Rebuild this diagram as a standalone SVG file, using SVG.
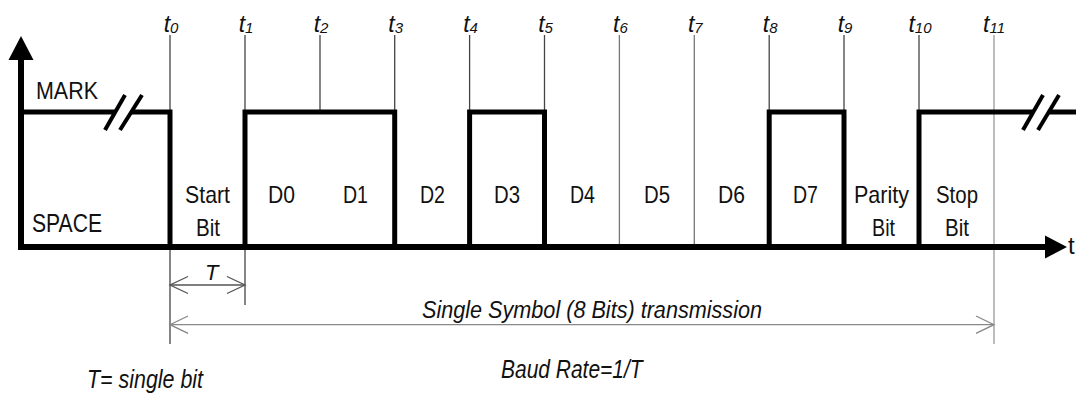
<svg xmlns="http://www.w3.org/2000/svg" width="1076" height="396" viewBox="0 0 1076 396">
<style>
.txt{font-family:"Liberation Sans",Arial,sans-serif;fill:#111}
.it{font-style:italic}
.cell{font-size:24px;text-anchor:middle}
.tl{font-size:23px;font-style:italic;text-anchor:middle}
.sub{font-size:15px}
.sig{fill:none;stroke:#000;stroke-width:5;stroke-linejoin:miter;stroke-linecap:butt}
.brk{stroke:#000;stroke-width:4}
.tick{stroke:#444;stroke-width:1.3}
.tickl{stroke:#777;stroke-width:1.3}
.tickg{stroke:#999;stroke-width:1.3}
.dim{fill:none;stroke:#555;stroke-width:1.3}
.diml{fill:none;stroke:#888;stroke-width:1.3}
</style>
<rect width="1076" height="396" fill="#fff"/>
<g id="ticks">
<line class="tick" x1="170" y1="35" x2="170" y2="344"/>
<line class="tick" x1="245" y1="35" x2="245" y2="305"/>
<line class="tick" x1="320" y1="35" x2="320" y2="112"/>
<line class="tick" x1="394.7" y1="35" x2="394.7" y2="112"/>
<line class="tick" x1="469.6" y1="35" x2="469.6" y2="112"/>
<line class="tick" x1="544.5" y1="35" x2="544.5" y2="112"/>
<line class="tickl" x1="619.4" y1="35" x2="619.4" y2="247"/>
<line class="tickl" x1="694.3" y1="35" x2="694.3" y2="247"/>
<line class="tick" x1="769.2" y1="35" x2="769.2" y2="112"/>
<line class="tick" x1="844" y1="35" x2="844" y2="112"/>
<line class="tick" x1="919" y1="35" x2="919" y2="112"/>
<line class="tickg" x1="994" y1="35" x2="994" y2="344"/>
</g>
<g id="axes">
<line x1="21" y1="58" x2="21" y2="250" stroke="#000" stroke-width="6"/>
<polygon points="21,36 8.5,60 33.5,60" fill="#000"/>
<line x1="18" y1="247" x2="1047" y2="247" stroke="#000" stroke-width="6"/>
<polygon points="1067,247 1045,235.5 1045,258.5" fill="#000"/>
<text class="txt" x="1068" y="254" font-size="24">t</text>
</g>
<g id="signal">
<path class="sig" d="M21,112 H115 M131,112 H170 V247 M245,247 V112 H394.7 V247 M469.6,247 V112 H544.5 V247 M769.2,247 V112 H844 V247 M919,247 V112 H1033 M1049,112 H1076"/>
<line class="brk" x1="105" y1="130" x2="125" y2="95"/>
<line class="brk" x1="120" y1="130" x2="142" y2="95"/>
<line class="brk" x1="1023" y1="130" x2="1043" y2="95"/>
<line class="brk" x1="1038" y1="130" x2="1059" y2="95"/>
</g>
<g id="time-labels" class="txt">
<text class="tl" x="171" y="32">t<tspan class="sub" dy="1">0</tspan></text>
<text class="tl" x="246" y="32">t<tspan class="sub" dy="1">1</tspan></text>
<text class="tl" x="321" y="32">t<tspan class="sub" dy="1">2</tspan></text>
<text class="tl" x="395.7" y="32">t<tspan class="sub" dy="1">3</tspan></text>
<text class="tl" x="470.6" y="32">t<tspan class="sub" dy="1">4</tspan></text>
<text class="tl" x="545.5" y="32">t<tspan class="sub" dy="1">5</tspan></text>
<text class="tl" x="620.4" y="32">t<tspan class="sub" dy="1">6</tspan></text>
<text class="tl" x="695.3" y="32">t<tspan class="sub" dy="1">7</tspan></text>
<text class="tl" x="770.2" y="32">t<tspan class="sub" dy="1">8</tspan></text>
<text class="tl" x="845" y="32">t<tspan class="sub" dy="1">9</tspan></text>
<text class="tl" x="920" y="32">t<tspan class="sub" dy="1">10</tspan></text>
<text class="tl" x="994" y="32">t<tspan class="sub" dy="1">11</tspan></text>
</g>
<g id="level-labels" class="txt">
<text x="36" y="99" font-size="24" textLength="62" lengthAdjust="spacingAndGlyphs">MARK</text>
<text x="32" y="231.5" font-size="25" textLength="70" lengthAdjust="spacingAndGlyphs">SPACE</text>
</g>
<g id="bit-labels" class="txt">
<text class="cell" x="207.5" y="203" textLength="45" lengthAdjust="spacingAndGlyphs">Start</text>
<text class="cell" x="208" y="236" textLength="24" lengthAdjust="spacingAndGlyphs">Bit</text>
<text class="cell" x="281.5" y="203" textLength="27" lengthAdjust="spacingAndGlyphs">D0</text>
<text class="cell" x="355.5" y="203" textLength="25" lengthAdjust="spacingAndGlyphs">D1</text>
<text class="cell" x="432.5" y="203" textLength="25" lengthAdjust="spacingAndGlyphs">D2</text>
<text class="cell" x="507" y="203" textLength="26" lengthAdjust="spacingAndGlyphs">D3</text>
<text class="cell" x="582.5" y="203" textLength="25" lengthAdjust="spacingAndGlyphs">D4</text>
<text class="cell" x="657" y="203" textLength="26" lengthAdjust="spacingAndGlyphs">D5</text>
<text class="cell" x="731.5" y="203" textLength="27" lengthAdjust="spacingAndGlyphs">D6</text>
<text class="cell" x="805.5" y="203" textLength="25" lengthAdjust="spacingAndGlyphs">D7</text>
<text class="cell" x="881.5" y="203" textLength="55" lengthAdjust="spacingAndGlyphs">Parity</text>
<text class="cell" x="883.5" y="236" textLength="23" lengthAdjust="spacingAndGlyphs">Bit</text>
<text class="cell" x="957" y="203" textLength="42" lengthAdjust="spacingAndGlyphs">Stop</text>
<text class="cell" x="957" y="236" textLength="24" lengthAdjust="spacingAndGlyphs">Bit</text>
</g>
<g id="dimensions">
<line class="dim" x1="170" y1="285" x2="245" y2="285"/>
<polyline class="dim" points="188,276.5 170,285 188,293.5"/>
<polyline class="dim" points="227,276.5 245,285 227,293.5"/>
<line class="diml" x1="170" y1="324.7" x2="994" y2="324.7"/>
<polyline class="diml" points="188,316 170,324.7 188,333.4"/>
<polyline class="diml" points="976,316 994,324.7 976,333.4"/>
</g>
<g id="notes" class="txt it">
<text x="205" y="279.6" font-size="22">T</text>
<text x="422" y="318" font-size="24.5" textLength="340" lengthAdjust="spacingAndGlyphs">Single Symbol (8 Bits) transmission</text>
<text x="501" y="378" font-size="25" textLength="141.6" lengthAdjust="spacingAndGlyphs">Baud Rate=1/T</text>
<text x="87" y="388" font-size="25" textLength="116" lengthAdjust="spacingAndGlyphs">T= single bit</text>
</g>
</svg>
